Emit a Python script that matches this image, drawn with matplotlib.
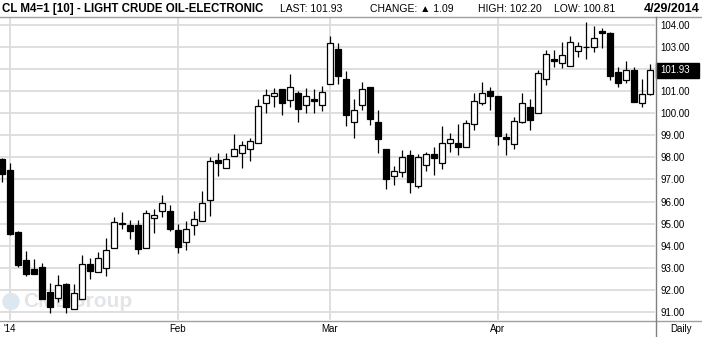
import numpy as np
import pandas as pd
import matplotlib
matplotlib.use('Agg')
import matplotlib.pyplot as plt
from matplotlib.patches import Ellipse, Rectangle
from matplotlib.lines import Line2D

# trading days Dec 31 2013 - Apr 29 2014 (exchange holidays dropped)
dates = pd.bdate_range('2013-12-31', '2014-04-29')
dates = dates.drop(pd.to_datetime(['2014-01-01', '2014-01-20', '2014-02-17', '2014-04-18']))

opens = [97.92, 97.43, 94.63, 93.36, 92.96, 93.05, 91.92, 91.63, 92.28, 91.16,
         91.62, 93.17, 92.83, 93.02, 93.92, 95.05, 94.93, 94.93, 93.92, 95.25,
         95.56, 95.56, 94.72, 94.16, 94.96, 95.14, 96.06, 97.87, 97.50, 98.05,
         98.18, 98.36, 98.63, 100.44, 100.76, 101.07, 100.58, 100.89, 100.35, 100.62,
         100.35, 101.30, 102.88, 101.54, 99.58, 100.35, 101.18, 99.60, 98.38, 97.14,
         97.32, 98.09, 96.72, 97.64, 98.14, 97.73, 98.63, 98.63, 98.45, 99.49,
         100.44, 100.98, 100.76, 98.91, 98.59, 99.60, 100.26, 100.00, 101.54, 102.43,
         102.25, 102.14, 102.80, 102.99, 103.00, 103.71, 103.60, 101.84, 101.48, 101.94,
         100.44, 100.84]
highs = [97.95, 97.73, 94.65, 93.77, 93.41, 93.21, 92.31, 92.67, 92.31, 92.28,
         93.59, 93.44, 93.72, 94.36, 95.31, 95.53, 95.17, 95.17, 95.62, 95.68,
         96.30, 95.83, 94.99, 95.14, 95.58, 96.47, 98.00, 98.18, 98.18, 99.04,
         98.72, 98.89, 100.62, 101.07, 101.12, 101.07, 101.76, 100.98, 101.12, 101.07,
         101.21, 103.48, 103.15, 101.90, 100.64, 101.40, 101.18, 100.12, 98.38, 97.61,
         98.33, 98.33, 98.15, 98.24, 98.47, 99.43, 99.09, 99.49, 99.69, 100.89,
         101.39, 101.16, 100.76, 99.09, 99.81, 100.89, 100.62, 101.94, 102.85, 102.85,
         103.22, 103.49, 103.22, 104.13, 103.93, 103.83, 103.67, 102.09, 102.35, 102.09,
         101.54, 102.20]
lows = [96.90, 94.49, 93.06, 92.65, 92.72, 91.62, 90.96, 91.48, 90.98, 91.14,
        91.62, 92.52, 92.81, 92.64, 93.92, 94.75, 94.33, 93.65, 93.92, 94.57,
        95.32, 94.69, 93.69, 93.81, 94.51, 95.14, 95.36, 97.17, 97.50, 98.05,
        97.50, 97.85, 98.63, 100.02, 100.29, 99.93, 100.29, 99.58, 99.99, 100.02,
        100.11, 101.30, 101.30, 99.43, 98.89, 100.15, 99.47, 98.18, 96.58, 96.76,
        97.13, 96.40, 96.63, 97.40, 97.22, 97.46, 98.25, 98.12, 98.45, 99.25,
        100.38, 100.12, 98.57, 98.12, 98.36, 99.54, 99.23, 100.00, 101.27, 102.09,
        102.02, 102.14, 102.55, 102.43, 102.74, 102.95, 101.49, 101.19, 101.37, 100.49,
        100.29, 100.81]
closes = [97.23, 94.54, 93.14, 92.73, 92.74, 91.62, 91.23, 92.22, 91.25, 91.86,
          93.17, 92.85, 93.44, 93.80, 95.07, 94.98, 94.69, 93.87, 95.47, 95.38,
          95.94, 94.78, 93.96, 94.75, 95.20, 95.92, 97.82, 97.76, 97.91, 98.36,
          98.54, 98.72, 100.31, 100.80, 100.89, 100.44, 101.16, 100.17, 100.76, 100.56,
          100.94, 103.15, 101.66, 99.93, 100.14, 101.07, 99.72, 98.81, 97.04, 97.37,
          98.00, 96.90, 98.00, 98.14, 97.98, 98.63, 98.81, 98.48, 99.54, 100.53,
          100.89, 100.76, 98.98, 98.84, 99.62, 100.44, 99.70, 101.80, 102.65, 102.34,
          102.61, 103.20, 103.03, 102.97, 103.38, 103.60, 101.69, 101.37, 101.94, 100.51,
          100.85, 101.93]

month_names = {1: "'14", 2: 'Feb', 3: 'Mar', 4: 'Apr'}
price_levels = list(range(91, 105))
last_price = 101.93
header = ['LAST: 101.93', 'CHANGE: \u25b2 1.09', 'HIGH: 102.20', 'LOW: 100.81']

W, H = 702, 337
fig = plt.figure(figsize=(W / 100, H / 100), dpi=100)
ax = fig.add_axes([0, 1 - 320 / H, 655 / W, 303 / H])

o = np.array(opens)
c = np.array(closes)
x = np.arange(len(dates))
up = c >= o

# wicks then bodies
ax.vlines(x, lows, highs, color='black', linewidth=0.9, zorder=3)
body_lo = np.minimum(o, c)
body_h = np.maximum(np.abs(c - o), 0.03)
ax.bar(x, body_h, bottom=body_lo, width=0.7,
       color=np.where(up, 'white', 'black'), edgecolor='black', linewidth=0.9, zorder=4)

# month ticks
month_idx = [i for i in range(1, len(dates)) if dates[i].month != dates[i - 1].month]
ax.set_xticks(month_idx)
ax.set_xticklabels([month_names[dates[i].month] for i in month_idx])
ax.set_xlim(-0.25, 81.625)

ax.set_ylim(90.65, 104.34)
ax.set_yticks(price_levels)
ax.set_yticklabels(['' if v == 102 else f'{v:.2f}' for v in price_levels])
ax.yaxis.tick_right()
ax.tick_params(axis='both', length=0, labelsize=7, colors='black')
ax.tick_params(axis='y', pad=4)
ax.tick_params(axis='x', pad=3)
for lab in ax.get_xticklabels() + ax.get_yticklabels():
    lab.set_fontfamily('Liberation Sans')

ax.grid(True, color='#dcdcdc', linewidth=1.3, zorder=0)
ax.set_axisbelow(True)
for s in ax.spines.values():
    s.set_visible(False)

# watermark
ax.add_patch(Ellipse((11 / 655, 18.5 / 303), 16 / 655, 16 / 303, transform=ax.transAxes,
                     color='#dde7f0', zorder=1))
ax.text(23 / 655, 13 / 303, 'CMEGroup', transform=ax.transAxes, fontsize=15,
        family='Liberation Sans', fontweight='bold', color='#e2e5e8', zorder=1, va='baseline')

# last price box
ax.add_patch(Rectangle((1.0015, last_price - 0.34), 0.066, 0.68, transform=ax.get_yaxis_transform(),
                       clip_on=False, facecolor='black', edgecolor='black', zorder=5))
ax.text(1 + 5 / 655, last_price, f'{last_price:.2f}', transform=ax.get_yaxis_transform(),
        color='white', fontsize=7, family='Liberation Sans', va='center', ha='left', zorder=6)

# frame lines
fig.add_artist(Line2D([0, 1], [1 - 17 / H] * 2, color='#a0a0a0', linewidth=1))
fig.add_artist(Line2D([0, 1], [1 - 320.5 / H] * 2, color='#a0a0a0', linewidth=1))
fig.add_artist(Line2D([655.5 / W] * 2, [0, 1 - 17 / H], color='#808080', linewidth=1))

# header
fig.text(2 / W, 1 - 9 / H, 'CL M4=1 [10] - LIGHT CRUDE OIL-ELECTRONIC', fontsize=8.3,
         family='Liberation Sans', fontweight='bold', va='center')
for txt, px in zip(header, [280, 370, 478, 554]):
    fig.text(px / W, 1 - 9 / H, txt, fontsize=7.5, family=['Liberation Sans', 'DejaVu Sans'], va='center')
fig.text(700 / W, 1 - 9 / H, dates[-1].strftime('%-m/%-d/%Y'), fontsize=9,
         family='Liberation Sans', fontweight='bold', va='center', ha='right')
fig.text(681 / W, 1 - 329 / H, 'Daily', fontsize=7, family='Liberation Sans', va='center', ha='center')

fig.savefig('out.png', dpi=100)
